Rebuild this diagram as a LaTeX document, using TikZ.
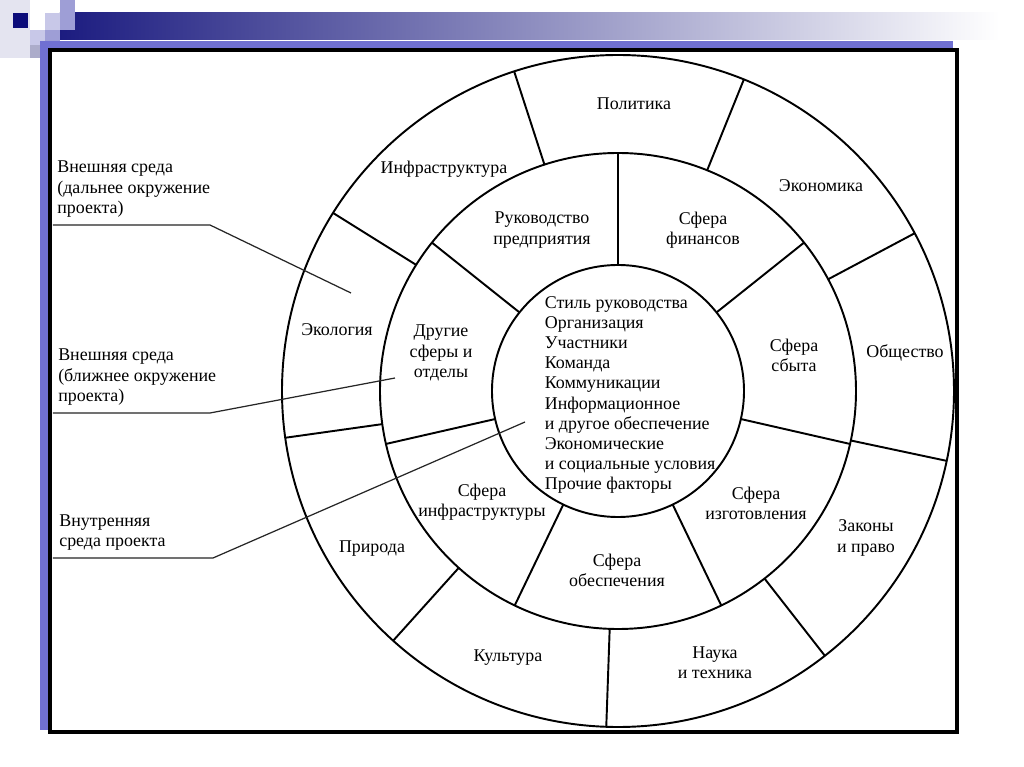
\documentclass[tikz,border=0pt]{standalone}
\usepackage{fontspec}
\setmainfont{Liberation Serif}
\usepackage{tikz}
\usetikzlibrary{positioning}

\definecolor{navybar}{RGB}{28,28,128}
\definecolor{midbar}{RGB}{150,150,182}
\definecolor{bandblue}{RGB}{112,112,210}
\definecolor{sqpale}{RGB}{228,228,240}
\definecolor{sqnavy}{RGB}{12,12,122}
\definecolor{lavlight}{RGB}{200,200,232}
\definecolor{lavmid}{RGB}{158,158,214}
\definecolor{lavgray}{RGB}{172,172,202}

\begin{document}
\begin{tikzpicture}[x=0.02cm, y=0.02cm,
        ring/.style={line width=1.1pt, black},
        sector/.style={align=center, inner sep=0pt, font=\fontsize{10.2}{11.5}\selectfont},
        envlabel/.style={align=left, inner sep=0pt, font=\fontsize{10.2}{11.7}\selectfont},
        leader/.style={line width=0.7pt, black!85},
    ]
    \useasboundingbox (-618,-376) rectangle (406,391);

    % slide decoration
    \fill[sqpale] (-618,391) rectangle (-588,333);
    \shade[left color=navybar, middle color=midbar, right color=white] (-558,378) rectangle (382,351);
    \fill[sqnavy] (-605,378) rectangle (-590,363);
    \fill[lavlight] (-573,378) rectangle (-558,361);
    \fill[lavmid] (-558,391) rectangle (-543,361);
    \fill[lavlight] (-588,361) rectangle (-573,346);
    \fill[lavmid] (-573,361) rectangle (-558,348);
    \fill[lavgray] (-588,346) rectangle (-573,333);

    % frame
    \fill[bandblue] (-578,350) rectangle (335,-339);
    \draw[line width=2pt, fill=white] (-568,341) rectangle (339,-341);

    % rings
    \draw[ring] (0,0) circle[radius=336];
    \draw[ring] (0,0) circle[radius=238];
    \draw[ring] (0,0) circle[radius=126];
    \foreach \k in {0,...,8}
        \draw[ring] ({28+\k*40}:238) -- ({28+\k*40}:336);
    \foreach \k in {0,...,6}
        \draw[ring] ({90+\k*360/7}:126) -- ({90+\k*360/7}:238);

    % outer ring
    \node[sector] (polit) at (16,287) {Политика};
    \node[sector] (econ) at (203,205) {Экономика};
    \node[sector] (soc) at (287,38) {Общество};
    \node[sector] (law) at (248,-147) {Законы\\и право};
    \node[sector] (sci) at (97,-272) {Наука\\и техника};
    \node[sector] (cult) at (-110,-267) {Культура};
    \node[sector] (nat) at (-246,-158) {Природа};
    \node[sector] (eco) at (-281,61) {Экология};
    \node[sector] (infra) at (-174,222) {Инфраструктура};

    % inner ring
    \node[sector] (mgmt) at (-76,161) {Руководство\\предприятия};
    \node[sector] (fin) at (85,161) {Сфера\\финансов};
    \node[sector] (sales) at (176,36) {Сфера\\сбыта};
    \node[sector] (prod) at (138,-112) {Сфера\\изготовления};
    \node[sector] (supp) at (-1,-179) {Сфера\\обеспечения};
    \node[sector] (infsph) at (-136,-111) {Сфера\\инфраструктуры};
    \node[sector] (other) at (-177,38) {Другие\\сферы и\\отделы};

    % core
    \node[sector, anchor=west, align=left] (core) at (-73.5,-4) {Стиль руководства\\Организация\\Участники\\Команда\\Коммуникации\\Информационное\\и другое обеспечение\\Экономические\\и социальные условия\\Прочие факторы};

    % labels on the left
    \coordinate (farstart) at (-565,166);
    \coordinate (farbend) at (-408,166);
    \coordinate (farend) at (-267,98);
    \node[envlabel, above right=4pt and 2.3pt of farstart] (farlbl) {Внешняя среда\\(дальнее окружение\\проекта)};
    \draw[leader] (farstart) -- (farbend) -- (farend);

    \coordinate (nearstart) at (-565,-22);
    \coordinate (nearbend) at (-408,-22);
    \coordinate (nearend) at (-223,13);
    \node[envlabel, above right=4pt and 2.8pt of nearstart] (nearlbl) {Внешняя среда\\(ближнее окружение\\проекта)};
    \draw[leader] (nearstart) -- (nearbend) -- (nearend);

    \coordinate (innstart) at (-565,-167);
    \coordinate (innbend) at (-405,-167);
    \coordinate (innend) at (-93,-31);
    \node[envlabel, above right=4pt and 3.4pt of innstart] (innlbl) {Внутренняя\\среда проекта};
    \draw[leader] (innstart) -- (innbend) -- (innend);
\end{tikzpicture}
\end{document}
